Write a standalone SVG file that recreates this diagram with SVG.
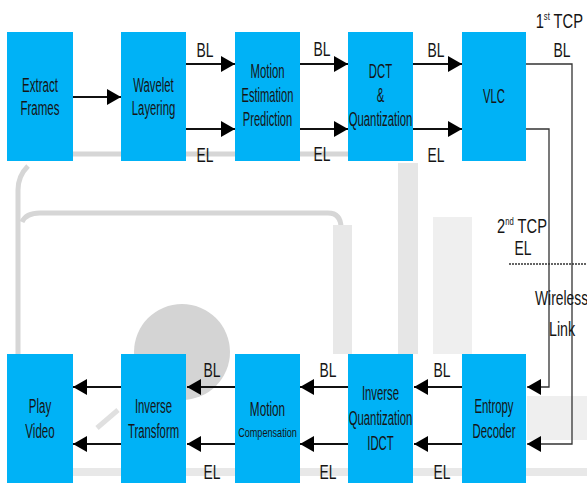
<svg xmlns="http://www.w3.org/2000/svg" width="587" height="484" viewBox="0 0 587 484">
<style>
.box{fill:#00b2f6;}
.t{font-family:"Liberation Sans",Arial,sans-serif;font-size:21px;fill:#151515;text-anchor:middle;}
.s{font-size:13px;}
.w{stroke:#111;stroke-width:2;fill:none;}
.v{stroke:#333;stroke-width:1.3;fill:none;}
.bg{fill:none;stroke:#d6d6d6;}
</style>
<defs>
<marker id="ah" markerUnits="userSpaceOnUse" markerWidth="15" markerHeight="17" refX="14" refY="8" orient="auto">
<path d="M0,0 L14,8 L0,16 z" fill="#000"/>
</marker>
</defs>
<rect width="587" height="484" fill="#fff"/>
<g id="background">
<path class="bg" d="M73,154 H235 M300,154 H348" stroke-width="5"/>
<path class="bg" d="M28,166 Q18,176 18,190 V354" stroke-width="5"/>
<path class="bg" d="M22,222 Q26,213 40,213 H328 Q341,213 341,228 V354" stroke-width="5"/>
<path d="M333,225 H352 V354 H333 z" fill="#e8e8e8"/>
<path d="M398,163 H418 V354 H398 z" fill="#e6e6e6"/>
<path d="M433,217 H472 V354 H433 z" fill="#efefef"/>
<path d="M527,396 H587 V440 H527 z" fill="#efefef"/>
<circle cx="182" cy="352" r="48" fill="#d4d4d4"/>
<path d="M73,472 H462 M526,472 H587" stroke="#e8e8e8" stroke-width="8"/>
<path d="M97,428 L118,410" stroke="#e0e0e0" stroke-width="5"/>
</g>
<g id="connectors">
<path class="w" d="M73,97 H121" marker-end="url(#ah)"/>
<path class="w" d="M186,64 H235" marker-end="url(#ah)"/>
<path class="w" d="M186,129 H235" marker-end="url(#ah)"/>
<path class="w" d="M300,64 H348" marker-end="url(#ah)"/>
<path class="w" d="M300,129 H348" marker-end="url(#ah)"/>
<path class="w" d="M413,64 H462" marker-end="url(#ah)"/>
<path class="w" d="M413,129 H462" marker-end="url(#ah)"/>
<path class="v" d="M526,64 H572 V444 H527" marker-end="url(#ah)"/>
<path class="v" d="M526,129 H549 V387 H527" marker-end="url(#ah)"/>
<path class="w" d="M462,387 H414" marker-end="url(#ah)"/>
<path class="w" d="M462,444 H414" marker-end="url(#ah)"/>
<path class="w" d="M348,387 H300" marker-end="url(#ah)"/>
<path class="w" d="M348,444 H300" marker-end="url(#ah)"/>
<path class="w" d="M235,387 H187" marker-end="url(#ah)"/>
<path class="w" d="M235,444 H187" marker-end="url(#ah)"/>
<path class="w" d="M121,387 H73" marker-end="url(#ah)"/>
<path class="w" d="M121,444 H73" marker-end="url(#ah)"/>
<path d="M509,264 H587" stroke="#333" stroke-width="1.3" stroke-dasharray="2,1"/>
</g>
<g id="labels">
<text class="t" transform="translate(205,57) scale(0.66,1)">BL</text>
<text class="t" transform="translate(322,56) scale(0.66,1)">BL</text>
<text class="t" transform="translate(436,57) scale(0.66,1)">BL</text>
<text class="t" transform="translate(205,162) scale(0.66,1)">EL</text>
<text class="t" transform="translate(322,161) scale(0.66,1)">EL</text>
<text class="t" transform="translate(436,162) scale(0.66,1)">EL</text>
<text class="t" transform="translate(583,28) scale(0.7,1)" style="text-anchor:end">1<tspan font-size="11" dy="-8">st</tspan><tspan dy="8"> TCP</tspan></text>
<text class="t" transform="translate(562,57) scale(0.66,1)">BL</text>
<text class="t" transform="translate(547,233) scale(0.7,1)" style="text-anchor:end">2<tspan font-size="11" dy="-8">nd</tspan><tspan dy="8"> TCP</tspan></text>
<text class="t" transform="translate(523,255) scale(0.66,1)">EL</text>
<text class="t" transform="translate(535,305) scale(0.66,1)" style="text-anchor:start">Wireless</text>
<text class="t" transform="translate(549,336) scale(0.68,1)" style="text-anchor:start">Link</text>
<text class="t" transform="translate(212,377) scale(0.66,1)">BL</text>
<text class="t" transform="translate(328,377) scale(0.66,1)">BL</text>
<text class="t" transform="translate(442,377) scale(0.66,1)">BL</text>
<text class="t" transform="translate(212,479) scale(0.66,1)">EL</text>
<text class="t" transform="translate(328,479) scale(0.66,1)">EL</text>
<text class="t" transform="translate(442,479) scale(0.66,1)">EL</text>
</g>
<g id="extract-frames">
<rect class="box" x="7" y="32" width="66" height="129"/>
<text class="t" transform="translate(40,92) scale(0.55,1)">Extract</text>
<text class="t" transform="translate(40,115) scale(0.55,1)">Frames</text>
</g>
<g id="wavelet-layering">
<rect class="box" x="121" y="32" width="65" height="129"/>
<text class="t" transform="translate(153.5,92) scale(0.54,1)">Wavelet</text>
<text class="t" transform="translate(153.5,115) scale(0.54,1)">Layering</text>
</g>
<g id="motion-estimation">
<rect class="box" x="235" y="32" width="65" height="129"/>
<text class="t" transform="translate(267.5,78) scale(0.54,1)">Motion</text>
<text class="t" transform="translate(267.5,102) scale(0.53,1)">Estimation</text>
<text class="t" transform="translate(267.5,126) scale(0.53,1)">Prediction</text>
</g>
<g id="dct-quantization">
<rect class="box" x="348" y="32" width="65" height="129"/>
<text class="t" transform="translate(380.5,78) scale(0.54,1)">DCT</text>
<text class="t" transform="translate(380.5,102) scale(0.54,1)">&amp;</text>
<text class="t" transform="translate(380.5,126) scale(0.54,1)">Quantization</text>
</g>
<g id="vlc">
<rect class="box" x="462" y="32" width="64" height="129"/>
<text class="t" transform="translate(494,103) scale(0.54,1)">VLC</text>
</g>
<g id="play-video">
<rect class="box" x="7" y="354" width="66" height="129"/>
<text class="t" transform="translate(40,413) scale(0.55,1)">Play</text>
<text class="t" transform="translate(40,438) scale(0.55,1)">Video</text>
</g>
<g id="inverse-transform">
<rect class="box" x="121" y="354" width="65" height="129"/>
<text class="t" transform="translate(153.5,413) scale(0.54,1)">Inverse</text>
<text class="t" transform="translate(153.5,438) scale(0.54,1)">Transform</text>
</g>
<g id="motion-compensation">
<rect class="box" x="235" y="354" width="65" height="129"/>
<text class="t" transform="translate(267.5,416) scale(0.56,1)">Motion</text>
<text class="t s" transform="translate(267.5,437) scale(0.7,1)">Compensation</text>
</g>
<g id="inverse-quantization">
<rect class="box" x="348" y="354" width="65" height="129"/>
<text class="t" transform="translate(380.5,400) scale(0.54,1)">Inverse</text>
<text class="t" transform="translate(380.5,425) scale(0.54,1)">Quantization</text>
<text class="t" transform="translate(380.5,450) scale(0.54,1)">IDCT</text>
</g>
<g id="entropy-decoder">
<rect class="box" x="462" y="354" width="64" height="129"/>
<text class="t" transform="translate(494,413) scale(0.54,1)">Entropy</text>
<text class="t" transform="translate(494,438) scale(0.54,1)">Decoder</text>
</g>
</svg>
